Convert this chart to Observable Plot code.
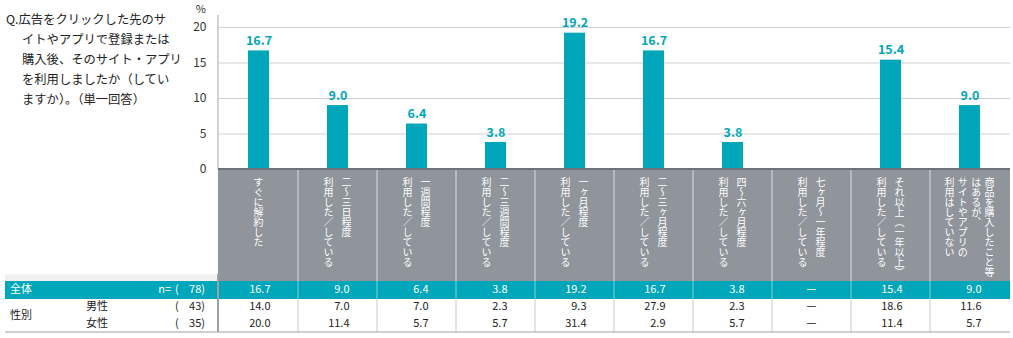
<!DOCTYPE html>
<html><head><meta charset="utf-8">
<script src="https://cdn.jsdelivr.net/npm/d3@7"></script>
<script src="https://cdn.jsdelivr.net/npm/@observablehq/plot@0.6"></script>
<style>
html,body{margin:0;padding:0;background:#fff;}
#wrap{position:relative;width:1013px;height:338px;overflow:hidden;}
</style></head><body><div id="wrap"></div>
<script>
// ---- data ----
const questionLines = ["Q.広告をクリックした先のサ","イトやアプリで登録または","購入後、そのサイト・アプリ","を利用しましたか（してい","ますか）。（単一回答）"];
const categoryLines = [
  ["すぐに解約した"],
  ["二～三日程度","利用した／している"],
  ["一週間程度","利用した／している"],
  ["二～三週間程度","利用した／している"],
  ["一ヶ月程度","利用した／している"],
  ["二～三ヶ月程度","利用した／している"],
  ["四～六ヶ月程度","利用した／している"],
  ["七ヶ月～一年程度","利用した／している"],
  ["それ以上（一年以上）","利用した／している"],
  ["商品を購入したこと等","はあるが、","サイトやアプリの","利用はしていない"]
];
const categories = categoryLines.map(l => l.join(""));
const overall = [16.7, 9.0, 6.4, 3.8, 19.2, 16.7, 3.8, null, 15.4, 9.0];
const male    = [14.0, 7.0, 7.0, 2.3, 9.3, 27.9, 2.3, null, 18.6, 11.6];
const female  = [20.0, 11.4, 5.7, 5.7, 31.4, 2.9, 5.7, null, 11.4, 5.7];
const rowLabels = ["全体", "男性", "女性"];
const groupLabel = "性別";
const nCounts = [78, 43, 35];
const yTicks = [0, 5, 10, 15, 20];
const unitLabel = "%";

// ---- style ----
const FONT = '"Noto Sans CJK JP","Noto Sans",sans-serif';
const TEAL = "#00a6b9";
const GRAY = "#8f959b";

const barData = categories.map((c, i) => ({cat: c, value: overall[i]}));

const chart = Plot.plot({
  width: 1013, height: 338,
  marginLeft: 218, marginRight: 3, marginTop: 27, marginBottom: 169,
  style: {fontFamily: FONT, fontSize: "12px", color: "#333", background: "#fff"},
  x: {domain: categories, padding: 0, axis: null},
  y: {domain: [0, 20], axis: null},
  marks: [
    Plot.ruleY(yTicks.filter(d => d > 0), {stroke: "#cfcfcf", strokeWidth: 1}),
    Plot.axisY(yTicks, {tickSize: 0, tickPadding: 12, fontSize: 12, fill: "#333", label: null}),
    Plot.barY(barData.filter(d => d.value != null), {x: "cat", y: "value", fill: TEAL, insetLeft: 29, insetRight: 29}),
    Plot.text(barData.filter(d => d.value != null), {x: "cat", y: "value", text: d => d.value.toFixed(1), dy: -10, fill: TEAL, fontWeight: "bold", fontSize: 12.5})
  ]
});
document.getElementById("wrap").appendChild(chart);

// ---- extra layers using Plot's scales ----
const svg = d3.select(chart);
const xs = chart.scale("x"), ys = chart.scale("y");
const bw = xs.bandwidth;
const [xL, xR] = xs.range;
const yZero = ys.apply(0);
const cx = c => xs.apply(c) + bw / 2;

const boxBottom = 281, rowH = 18, row2Y = 307.5, row3Y = 324, tableBottom = 332, tableLeft = 5;

const layer = svg.append("g").attr("text-anchor", "start");

// y axis line & unit
layer.append("line").attr("x1", xL).attr("x2", xL).attr("y1", 15).attr("y2", yZero)
  .attr("stroke", "#d2d2d2").attr("stroke-width", 2);
layer.append("text").attr("x", xL - 12).attr("y", 10).attr("text-anchor", "end")
  .attr("dominant-baseline", "middle").attr("font-size", 11).attr("fill", "#333").text(unitLabel);

// question text
questionLines.forEach((t, i) => {
  layer.append("text").attr("x", i === 0 ? 6 : 22).attr("y", 21 + i * 20)
    .attr("dominant-baseline", "middle").attr("font-size", 12.3).attr("fill", "#222").text(t);
});

// gray category box
layer.append("rect").attr("x", xL).attr("y", yZero).attr("width", xR - xL).attr("height", boxBottom - yZero).attr("fill", GRAY);
layer.append("line").attr("x1", xL).attr("x2", xR).attr("y1", yZero).attr("y2", yZero).attr("stroke", "#6c7278").attr("stroke-width", 2);
categories.forEach((c, i) => {
  if (i > 0) layer.append("line").attr("x1", xs.apply(c)).attr("x2", xs.apply(c))
    .attr("y1", yZero + 1).attr("y2", boxBottom).attr("stroke", "#c3c7cb").attr("stroke-width", 1.5);
  const lines = categoryLines[i];
  const sp = lines.length > 2 ? 13.3 : 18;
  lines.forEach((t, j) => {
    const off = ((lines.length - 1) / 2 - j) * sp;
    layer.append("text").attr("x", cx(c) + off).attr("y", yZero + 8)
      .attr("style", "writing-mode: vertical-rl;").attr("text-anchor", "start")
      .attr("font-size", 10).attr("fill", "#fff").text(t);
  });
});

// table
layer.append("rect").attr("x", tableLeft).attr("y", 274).attr("width", xL - tableLeft).attr("height", boxBottom - 274).attr("fill", "#f1f1f1");
layer.append("rect").attr("x", tableLeft).attr("y", boxBottom).attr("width", xR - tableLeft).attr("height", rowH).attr("fill", TEAL);
categories.forEach((c, i) => {
  if (i > 0) {
    layer.append("line").attr("x1", xs.apply(c)).attr("x2", xs.apply(c)).attr("y1", boxBottom).attr("y2", boxBottom + rowH)
      .attr("stroke", "#7fd0da").attr("stroke-width", 1);
    layer.append("line").attr("x1", xs.apply(c)).attr("x2", xs.apply(c)).attr("y1", boxBottom + rowH).attr("y2", tableBottom)
      .attr("stroke", "#dcdcdc").attr("stroke-width", 1.5);
  }
});
layer.append("line").attr("x1", xL).attr("x2", xL).attr("y1", 274).attr("y2", tableBottom).attr("stroke", "#9aa0a5").attr("stroke-width", 2);
layer.append("line").attr("x1", tableLeft).attr("x2", xR).attr("y1", tableBottom).attr("y2", tableBottom).attr("stroke", "#a0a0a0").attr("stroke-width", 1.2);

const rows = [
  {vals: overall, y: boxBottom + rowH / 2, fill: "#fff"},
  {vals: male, y: row2Y, fill: "#222"},
  {vals: female, y: row3Y, fill: "#222"}
];
rows.forEach((r, k) => {
  const g = layer.append("g").attr("font-size", 11).attr("fill", r.fill);
  g.append("text").attr("x", k === 0 ? 10 : 86).attr("y", r.y).attr("dominant-baseline", "middle").text(rowLabels[k]);
  if (k === 0) g.append("text").attr("x", 171).attr("y", r.y).attr("text-anchor", "end").attr("dominant-baseline", "middle").text("n=");
  g.append("text").attr("x", 175).attr("y", r.y).attr("dominant-baseline", "middle").text("(");
  g.append("text").attr("x", 205).attr("y", r.y).attr("text-anchor", "end").attr("dominant-baseline", "middle").text(nCounts[k] + ")");
  categories.forEach((c, i) => {
    const v = r.vals[i];
    if (v == null) {
      g.append("text").attr("x", cx(c)).attr("y", r.y).attr("text-anchor", "middle").attr("dominant-baseline", "middle").text("—");
    } else {
      g.append("text").attr("x", cx(c) + 12).attr("y", r.y).attr("text-anchor", "end").attr("dominant-baseline", "middle").text(v.toFixed(1));
    }
  });
});
layer.append("text").attr("x", 10).attr("y", (row2Y + row3Y) / 2).attr("dominant-baseline", "middle")
  .attr("font-size", 11).attr("fill", "#222").text(groupLabel);
</script></body></html>
